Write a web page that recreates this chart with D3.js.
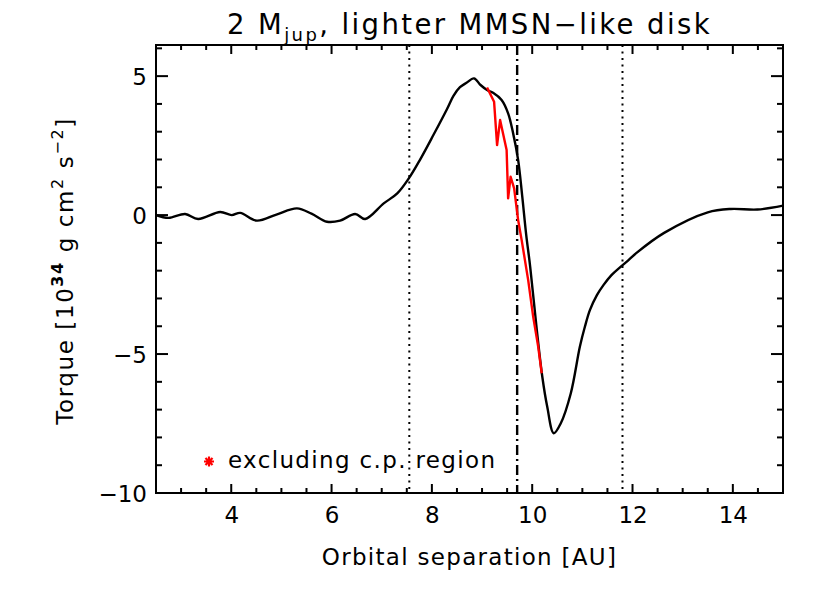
<!DOCTYPE html>
<html>
<head>
<meta charset="utf-8">
<script src="https://cdn.jsdelivr.net/npm/d3@7"></script>
<style>
  body { margin: 0; background: #fff; }
  svg { display: block; font-family: "DejaVu Sans", sans-serif; }
</style>
</head>
<body>
<svg id="chart" width="830" height="593"></svg>
<script>
// Torque profile, full disk (black)
const torqueX = [2.5, 2.75, 3.08, 3.34, 3.78, 4.01, 4.18, 4.51, 4.9, 5.31, 5.6, 5.91, 6.17, 6.47, 6.67,
  7.04, 7.31, 7.54, 7.76, 8.03, 8.3, 8.43, 8.56, 8.69, 8.84, 8.97, 9.1, 9.22, 9.39, 9.52, 9.62, 9.72,
  9.8, 9.88, 9.96, 10.09, 10.2, 10.3, 10.43, 10.57, 10.77, 10.95, 11.05, 11.15, 11.29, 11.42, 11.58,
  11.75, 11.92, 12.08, 12.63, 13.5, 13.96, 14.49, 15.0];
const torqueY = [0.0, -0.1, 0.04, -0.14, 0.11, 0.0, 0.08, -0.2, 0.02, 0.24, 0.05, -0.24, -0.2, 0.04, -0.14,
  0.42, 0.78, 1.32, 1.98, 2.88, 3.81, 4.29, 4.6, 4.76, 4.92, 4.68, 4.5, 4.4, 4.14, 3.66, 2.94, 1.98,
  0.7, -0.7, -1.86, -4.1, -5.8, -6.9, -7.85, -7.49, -6.41, -4.74, -4.02, -3.42, -2.88, -2.52, -2.16,
  -1.88, -1.62, -1.36, -0.64, 0.1, 0.22, 0.2, 0.34];

// Torque excluding the circumplanetary region (red)
const exclX = [9.1, 9.24, 9.3, 9.36, 9.49, 9.52, 9.57, 9.64, 9.72, 9.79, 9.92, 10.02, 10.12, 10.19];
const exclY = [4.59, 4.08, 2.52, 3.42, 2.34, 0.6, 1.38, 0.96, -0.18, -0.9, -2.34, -3.66, -4.74, -5.69];

// vertical markers
const dottedX = [7.55, 11.8];
const dashDotX = [9.7];

const xTicks = [4, 6, 8, 10, 12, 14];
const yTicks = [-10, -5, 0, 5];
const xMinor = [3, 3.5, 4.5, 5, 5.5, 6.5, 7, 7.5, 8.5, 9, 9.5, 10.5, 11, 11.5, 12.5, 13, 13.5, 14.5];
const yMinor = [-9, -8, -7, -6, -4, -3, -2, -1, 1, 2, 3, 4, 6];

const svg = d3.select('#chart');
const m = { left: 156, right: 783, top: 45, bottom: 493 };

const x = d3.scaleLinear().domain([2.5, 15]).range([m.left, m.right]);
const y = d3.scaleLinear().domain([-10, 6.12]).range([m.bottom, m.top]);

const plot = svg.append('g');

// reference lines
plot.selectAll('line.dot')
  .data(dottedX)
  .enter()
  .append('line')
  .attr('x1', (d) => x(d)).attr('x2', (d) => x(d))
  .attr('y1', m.top).attr('y2', m.bottom)
  .attr('stroke', '#000')
  .attr('stroke-width', 2)
  .attr('stroke-dasharray', '2,4.5');

plot.selectAll('line.dashdot')
  .data(dashDotX)
  .enter()
  .append('line')
  .attr('x1', (d) => x(d)).attr('x2', (d) => x(d))
  .attr('y1', m.top).attr('y2', m.bottom)
  .attr('stroke', '#000')
  .attr('stroke-width', 2.4)
  .attr('stroke-dasharray', '10,4,2,4');

// curves
const blackLine = d3.line()
  .x((d, i) => x(torqueX[i]))
  .y((d) => y(d))
  .curve(d3.curveCatmullRom.alpha(0.5));

plot.append('path')
  .datum(torqueY)
  .attr('fill', 'none')
  .attr('stroke', '#000')
  .attr('stroke-width', 2.4)
  .attr('stroke-linejoin', 'round')
  .attr('d', blackLine);

const redLine = d3.line()
  .x((d, i) => x(exclX[i]))
  .y((d) => y(d));

plot.append('path')
  .datum(exclY)
  .attr('fill', 'none')
  .attr('stroke', '#ff0000')
  .attr('stroke-width', 2.4)
  .attr('stroke-linejoin', 'round')
  .attr('d', redLine);

// ticks, pointing inward on all four sides (x ticks shorter, as in IDL)
const ticks = svg.append('g').attr('stroke', '#000').attr('stroke-width', 2);
function xTickMarks(vals, len) {
  [[m.bottom, -1], [m.top, 1]].forEach(([y0, dir]) => {
    ticks.selectAll(null).data(vals).enter().append('line')
      .attr('x1', (d) => x(d)).attr('x2', (d) => x(d))
      .attr('y1', y0).attr('y2', y0 + dir * len);
  });
}
function yTickMarks(vals, len) {
  [[m.left, 1], [m.right, -1]].forEach(([x0, dir]) => {
    ticks.selectAll(null).data(vals).enter().append('line')
      .attr('y1', (d) => y(d)).attr('y2', (d) => y(d))
      .attr('x1', x0).attr('x2', x0 + dir * len);
  });
}
xTickMarks(xTicks, 9);
xTickMarks(xMinor, 5);
yTickMarks(yTicks, 12);
yTickMarks(yMinor, 6);

// tick labels via the axis generators
const xAxis = svg.append('g')
  .attr('transform', `translate(0,${m.bottom})`)
  .call(d3.axisBottom(x).tickValues(xTicks).tickSize(0).tickPadding(14).tickFormat(d3.format('d')));
const yAxis = svg.append('g')
  .attr('transform', `translate(${m.left},0)`)
  .call(d3.axisLeft(y).tickValues(yTicks).tickSize(0).tickPadding(9));
svg.selectAll('.domain').remove();
svg.selectAll('.tick text')
  .attr('font-family', '"DejaVu Sans", sans-serif')
  .attr('font-size', 23)
  .attr('fill', '#000');
yAxis.selectAll('.tick text').attr('dy', '0.36em');

// frame
svg.append('rect')
  .attr('x', m.left).attr('y', m.top)
  .attr('width', m.right - m.left).attr('height', m.bottom - m.top)
  .attr('fill', 'none')
  .attr('stroke', '#000')
  .attr('stroke-width', 2);

// title
const title = svg.append('text')
  .attr('x', (m.left + m.right) / 2)
  .attr('y', 34)
  .attr('text-anchor', 'middle')
  .attr('font-size', 27.5)
  .attr('letter-spacing', 2.4);
title.append('tspan').text('2 M');
title.append('tspan').attr('font-size', 18).attr('dy', 7).text('jup');
title.append('tspan').attr('dy', -7).text(', lighter MMSN\u2212like disk');

// x label
svg.append('text')
  .attr('x', (m.left + m.right) / 2)
  .attr('y', 565)
  .attr('text-anchor', 'middle')
  .attr('font-size', 23)
  .attr('letter-spacing', 1.3)
  .text('Orbital separation [AU]');

// y label
const ylab = svg.append('text')
  .attr('transform', `translate(73,${(m.top + m.bottom) / 2 + 2}) rotate(-90)`)
  .attr('text-anchor', 'middle')
  .attr('font-size', 23)
  .attr('letter-spacing', 1.6);
ylab.append('tspan').text('Torque [10');
ylab.append('tspan').attr('font-size', 16).attr('font-weight', 'bold').attr('dy', -10).text('34');
ylab.append('tspan').attr('dy', 10).text(' g cm');
ylab.append('tspan').attr('font-size', 16).attr('dy', -10).text('2');
ylab.append('tspan').attr('dy', 10).text(' s');
ylab.append('tspan').attr('font-size', 16).attr('dy', -10).text('\u22122');
ylab.append('tspan').attr('dy', 10).text(']');

// legend: 8-arm asterisk like IDL psym 2
const asterisk8 = {
  draw(context, size) {
    const r = Math.sqrt(size) / 2;
    const d = r * Math.SQRT1_2;
    context.moveTo(-r, 0); context.lineTo(r, 0);
    context.moveTo(0, -r); context.lineTo(0, r);
    context.moveTo(-d, -d); context.lineTo(d, d);
    context.moveTo(-d, d); context.lineTo(d, -d);
  }
};
svg.append('path')
  .attr('transform', 'translate(209,461.5)')
  .attr('d', d3.symbol(asterisk8, 100)())
  .attr('fill', 'none')
  .attr('stroke', '#ff0000')
  .attr('stroke-width', 2.2);

svg.append('text')
  .attr('x', 228)
  .attr('y', 468)
  .attr('font-size', 23)
  .attr('letter-spacing', 1.35)
  .text('excluding c.p. region');
</script>
</body>
</html>
